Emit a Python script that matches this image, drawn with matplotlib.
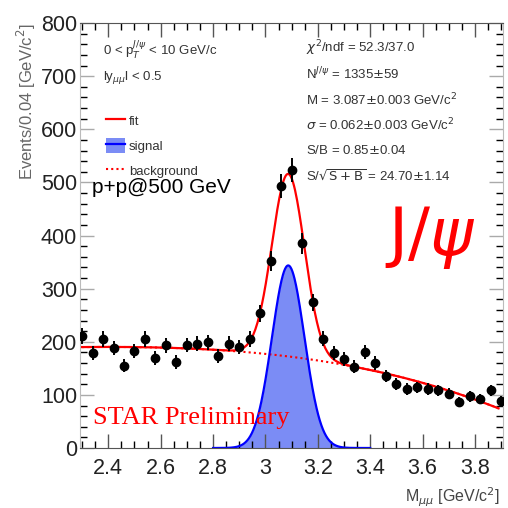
import numpy as np
import matplotlib
matplotlib.use("Agg")
import matplotlib.pyplot as plt
from matplotlib.lines import Line2D
from matplotlib.patches import Patch
from matplotlib.ticker import MultipleLocator

# bin centres (GeV/c^2) and counts per 0.04 GeV/c^2 bin
mass = [2.30, 2.34, 2.38, 2.42, 2.46, 2.50, 2.54, 2.58, 2.62, 2.66,
        2.70, 2.74, 2.78, 2.82, 2.86, 2.90, 2.94, 2.98, 3.02, 3.06,
        3.10, 3.14, 3.18, 3.22, 3.26, 3.30, 3.34, 3.38, 3.42, 3.46,
        3.50, 3.54, 3.58, 3.62, 3.66, 3.70, 3.74, 3.78, 3.82, 3.86, 3.90]
counts = [211, 179, 205, 188, 155, 182, 205, 170, 193, 162,
          194, 196, 199, 174, 196, 190, 205, 254, 352, 493,
          523, 385, 274, 206, 179, 167, 153, 181, 160, 135,
          120, 111, 114, 111, 109, 102, 87, 97, 92, 109, 89]

# fit result (gaussian signal + cubic background in u = m - 2.3)
n_jpsi = 1335
m_jpsi = 3.087
sigma_jpsi = 0.062
bin_width = 0.04
bkg_coef = [190.0, 4.55, -20.2, -17.8]

stat_lines = [
    r"$\chi^2$/ndf = 52.3/37.0",
    r"N$^{J/\psi}$ = 1335$\pm$59",
    r"M = 3.087$\pm$0.003 GeV/c$^2$",
    r"$\sigma$ = 0.062$\pm$0.003 GeV/c$^2$",
    r"S/B = 0.85$\pm$0.04",
    r"S/$\sqrt{\mathrm{S+B}}$ = 24.70$\pm$1.14",
]


def background(m):
    u = m - 2.3
    return sum(c * u ** i for i, c in enumerate(bkg_coef))


def signal(m):
    amp = n_jpsi * bin_width / (sigma_jpsi * np.sqrt(2 * np.pi))
    return amp * np.exp(-0.5 * ((m - m_jpsi) / sigma_jpsi) ** 2)


plt.rcParams["font.family"] = ["Liberation Sans", "DejaVu Sans"]
plt.rcParams["mathtext.fontset"] = "dejavusans"

fig = plt.figure(figsize=(5.08, 5.08), dpi=100)
ax = fig.add_axes([80 / 508, 60 / 508, 423 / 508, 425 / 508])

x = np.array(mass)
y = np.array(counts)

# background (dotted), signal (filled), total fit (solid)
xb = np.linspace(2.3, 3.89, 400)
ax.plot(xb, background(xb), color="red", ls=(0, (1, 1.5)), lw=1.5, zorder=2)
xs = np.linspace(2.8, 3.4, 300)
ax.fill_between(xs, 0, signal(xs), color="#7b8cf5", lw=0, zorder=1)
ax.plot(xs, signal(xs), color="#0000ff", lw=1.6, zorder=2)
ax.plot(xb, background(xb) + signal(xb), color="red", lw=1.6, zorder=3)

ax.errorbar(x, y, yerr=np.sqrt(y), xerr=0.011, fmt="o", color="black",
            ms=6, elinewidth=1.4, capsize=0, zorder=4)

ax.set_xlim(2.292, 3.907)
ax.set_ylim(0, 800)
ax.xaxis.set_minor_locator(MultipleLocator(0.05))
ax.yaxis.set_major_locator(MultipleLocator(100))
ax.yaxis.set_minor_locator(MultipleLocator(20))
ax.set_xticks([2.4, 2.6, 2.8, 3.0, 3.2, 3.4, 3.6, 3.8])
ax.set_xticklabels(["2.4", "2.6", "2.8", "3", "3.2", "3.4", "3.6", "3.8"])
ax.tick_params(which="both", direction="in", top=True, right=True,
               labelsize=15.5, labelcolor="#222222")
ax.tick_params(which="major", length=10, width=1)
ax.tick_params(which="minor", length=5, width=1)
ax.tick_params(axis="y", colors="#aaaaaa", labelcolor="#222222", pad=2)
ax.tick_params(axis="x", colors="#555555", labelcolor="#222222", pad=7)
for side in ["left", "right"]:
    ax.spines[side].set_color("#bbbbbb")
for side in ["top", "bottom"]:
    ax.spines[side].set_color("#555555")

ax.set_ylabel(r"Events/0.04 [GeV/c$^2$]", fontsize=12, color="#666666",
              loc="top", labelpad=2)
ax.set_xlabel(r"M$_{\mu\mu}$ [GeV/c$^2$]", fontsize=11.5, color="#444444",
              loc="right", labelpad=5)
ax.xaxis.label.set_x(0.992)

# kinematic cuts and legend
txt_kw = dict(transform=ax.transAxes, fontsize=9.5, color="#333333")
ax.text(0.055, 0.936, r"0 < p$_T^{J/\psi}$ < 10 GeV/c", va="center", **txt_kw)
ax.text(0.055, 0.871, r"ly$_{\mu\mu}$l < 0.5", va="center", **txt_kw)
handles = [
    Line2D([], [], color="red", lw=1.6),
    (Patch(facecolor="#7b8cf5", lw=0), Line2D([], [], color="#0000ff", lw=1.6)),
    Line2D([], [], color="red", ls=(0, (1, 1.5)), lw=1.5),
]
leg = ax.legend(handles, ["fit", "signal", "background"], loc="upper left",
                bbox_to_anchor=(0.05, 0.80), frameon=False, fontsize=9.5,
                handlelength=1.4, handleheight=1.3, handletextpad=0.3,
                labelspacing=0.8, borderaxespad=0)
for t in leg.get_texts():
    t.set_color("#333333")

ax.text(0.028, 0.612, "p+p@500 GeV", transform=ax.transAxes, fontsize=15,
        va="center", color="black")

# fit statistics
for i, line in enumerate(stat_lines):
    ax.text(0.535, 0.94 - i * 0.06, line, va="center", **txt_kw)

ax.text(0.828, 0.495, r"J/$\psi$", transform=ax.transAxes, fontsize=47,
        family="DejaVu Sans", color="red", ha="center", va="center")
ax.text(0.03, 0.07, "STAR Preliminary", transform=ax.transAxes, fontsize=19,
        family="Liberation Serif", color="red", va="center")

fig.savefig("out.png", dpi=100)
